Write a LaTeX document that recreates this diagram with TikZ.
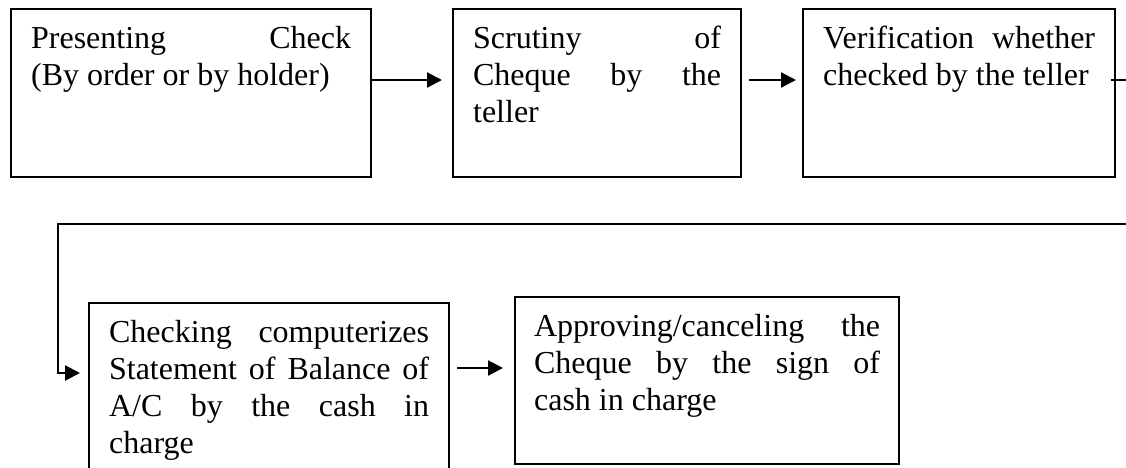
\documentclass[tikz,border=0pt]{standalone}
\usepackage{fontspec}
\setmainfont{Liberation Serif}
\usetikzlibrary{arrows.meta}

% top-aligned, justified body of a step box: height, text width, text
\newcommand\stepbody[3]{\parbox[c][#1][t]{#2}{\tolerance=10000\hbadness=10000\rule{0pt}{39pt}#3}}

\tikzset{
  stepbox/.style={draw, line width=2.2pt, anchor=north west, inner xsep=20pt,
    inner ysep=0pt, font=\fontsize{32pt}{37pt}\selectfont},
  conn/.style={line width=2.2pt, -{Triangle[length=15pt,width=15pt]}},
}

\begin{document}
\begin{tikzpicture}[x=1pt,y=-1pt]
\useasboundingbox (0,0) rectangle (1126,467);
\clip (0,0) rectangle (1126,467);

% first row
\node[stepbox] (b1) at (10,8)
  {\stepbody{168pt}{320pt}{Presenting Check\linebreak (By order or by holder)}};
\node[stepbox] (b2) at (452,8)
  {\stepbody{168pt}{248pt}{Scrutiny of\linebreak Cheque by the\linebreak teller}};
\node[stepbox] (b3) at (802,8)
  {\stepbody{168pt}{272pt}{Verification whether\linebreak checked by the teller}};

% second row
\node[stepbox] (b4) at (88,302)
  {\stepbody{180pt}{320pt}{Checking computerizes\linebreak Statement of Balance of\linebreak A/C by the cash in\linebreak charge}};
\node[stepbox, inner xsep=19pt] (b5) at (514,296)
  {\stepbody{167pt}{346pt}{Approving/canceling the\linebreak Cheque by the sign of\linebreak cash in charge}};

% levels of the connectors
\coordinate (row1) at (0,80);
\coordinate (row2) at (0,368);
\coordinate (row3) at (0,373);
\coordinate (fbR) at (1140,224);
\coordinate (fbL) at (58,224);

\draw[conn, shorten >=10pt] (b1.east |- row1) -- (b2.west |- row1);
\draw[conn, shorten <=7pt, shorten >=6pt] (b2.east |- row1) -- (b3.west |- row1);
\draw[conn, shorten <=-5pt, shorten >=8pt] (b3.east |- row1) -| (fbR) -- (fbL) |- (b4.west |- row3);
\draw[conn, shorten <=7pt, shorten >=11pt] (b4.east |- row2) -- (b5.west |- row2);
\end{tikzpicture}
\end{document}
